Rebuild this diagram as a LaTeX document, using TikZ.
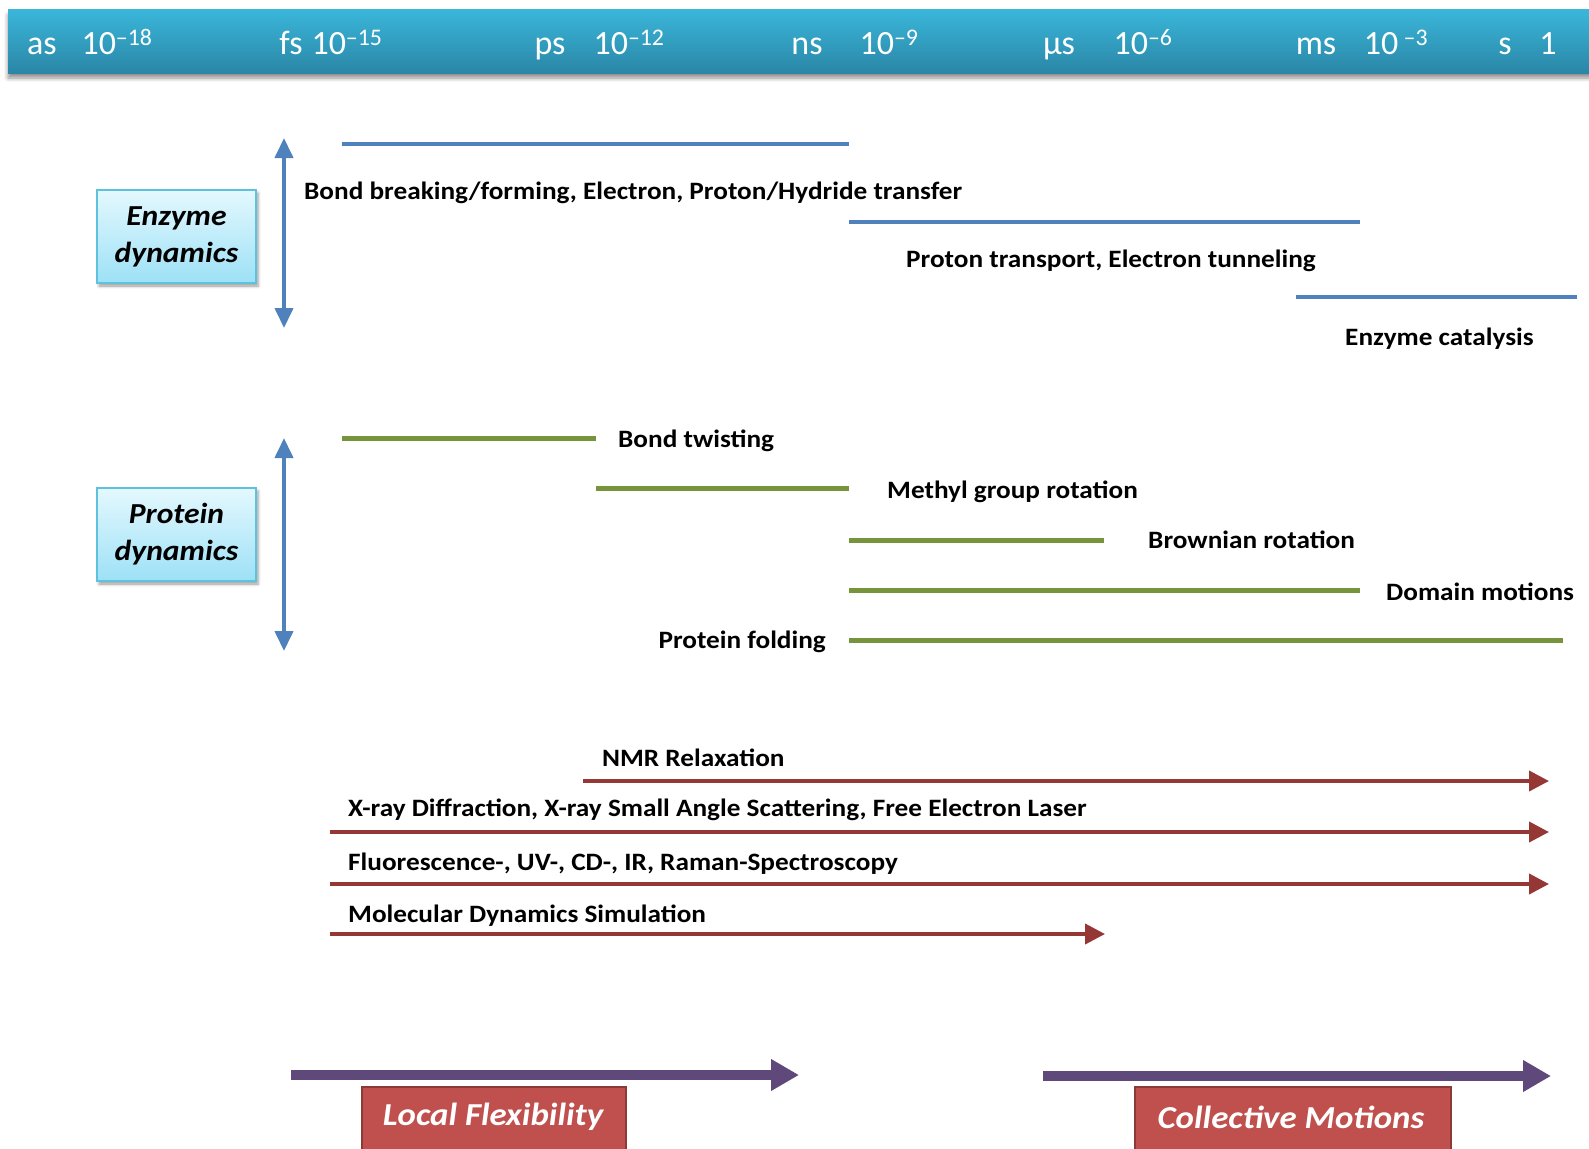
\documentclass[tikz,border=0pt]{standalone}
\usepackage{fontspec}
\setmainfont{Carlito}
\newfontfamily\widefont[FakeStretch=1.09]{Carlito}
\usetikzlibrary{arrows.meta, positioning, shadows, shadows.blur}
\definecolor{hdrTop}{HTML}{3AB6DA}
\definecolor{hdrBot}{HTML}{2A86A6}
\definecolor{boxTop}{HTML}{E4F8FE}
\definecolor{boxBot}{HTML}{9DE1F6}
\definecolor{boxLine}{HTML}{5EC2DF}
\definecolor{mBlue}{HTML}{4F81BD}
\definecolor{mGreen}{HTML}{77933C}
\definecolor{mRed}{HTML}{953735}
\definecolor{mPurple}{HTML}{5F497A}
\definecolor{mBoxRed}{HTML}{C0504D}
\definecolor{mBoxEdge}{HTML}{8C3A37}

\begin{document}
\begin{tikzpicture}[x=1pt, y=-1pt,
    hdr/.style={anchor=base, text=white, inner sep=0pt, font=\fontsize{34}{40}\selectfont},
    lbl/.style={inner sep=0pt, font=\widefont\fontsize{25}{30}\selectfont\bfseries},
    kindbox/.style={draw=boxLine, line width=1.2pt, top color=boxTop, bottom color=boxBot,
      minimum width=159pt, minimum height=93pt, align=center,
      font=\widefont\fontsize{29}{37}\selectfont\bfseries\itshape,
      blur shadow={shadow xshift=2pt, shadow yshift=-3pt, shadow blur radius=3pt, shadow opacity=40}},
    scalebox/.style={draw=mBoxEdge, line width=1.5pt, fill=mBoxRed},
    scaletext/.style={text=white, font=\widefont\fontsize{32}{36}\selectfont\bfseries\itshape},
    bluebar/.style={mBlue, line width=4pt},
    greenbar/.style={mGreen, line width=5pt},
    method/.style={mRed, line width=4pt, -{Triangle[length=20pt, width=20pt]}},
    trend/.style={mPurple, line width=10pt, -{Triangle[length=28pt, width=30pt]}},
    span/.style={mBlue, line width=4pt, {Triangle[length=20pt, width=18pt]}-{Triangle[length=20pt, width=18pt]}}]
  \useasboundingbox (0,0) rectangle (1589,1148);

  % time scale bar
  \shade[top color=hdrTop, bottom color=hdrBot,
    blur shadow={shadow xshift=0pt, shadow yshift=-5pt, shadow blur radius=4pt, shadow opacity=45}]
    (8,10) rectangle (1600,73);
  \foreach \x/\t [count=\i] in {42/as, 117/10\textsuperscript{--18}, 291/fs, 347/10\textsuperscript{--15},
      550/ps, 629/10\textsuperscript{--12}, 807/ns, 889/10\textsuperscript{--9},
      1059/µs, 1143/10\textsuperscript{--6}, 1316/ms, 1396/10\textsuperscript{ --3},
      1505/s, 1548/1}
    \node[hdr] (t\i) at (\x,55) {\t};

  % enzyme dynamics
  \node[kindbox] (enz) at (176.5,236.5) {Enzyme\\dynamics};
  \draw[span] (284,138) -- (284,328);
  \foreach \xa/\xb/\y in {342/849/144, 849/1360/222, 1296/1577/297}
    \draw[bluebar] (\xa,\y) -- (\xb,\y);
  \node[lbl, anchor=west] (bond) at (304,193) {Bond breaking/forming, Electron, Proton/Hydride transfer};
  \node[lbl, anchor=west] (ptrans) at (906,261) {Proton transport, Electron tunneling};
  \node[lbl, anchor=west] (cat) at (1345,339) {Enzyme catalysis};

  % protein dynamics
  \node[kindbox] (prot) at (176.5,534.5) {Protein\\dynamics};
  \draw[span] (284,438) -- (284,651);
  \foreach \xa/\xb/\y in {342/596/438, 596/849/488, 849/1104/540, 849/1360/590, 849/1563/640}
    \draw[greenbar] (\xa,\y) -- (\xb,\y);
  \node[lbl, anchor=west] (twist) at (618,441) {Bond twisting};
  \node[lbl, anchor=west] (methyl) at (887,492) {Methyl group rotation};
  \node[lbl, anchor=west] (brown) at (1148,540) {Brownian rotation};
  \node[lbl, anchor=west] (domain) at (1386,592) {Domain motions};
  \node[lbl, anchor=east] (fold) at (826,642) {Protein folding};

  % experimental methods
  \foreach \xa/\xb/\y in {583/1549/781, 330/1549/832, 330/1549/884, 330/1105/934}
    \draw[method] (\xa,\y) -- (\xb,\y);
  \node[lbl, anchor=west] (nmr) at (602,758) {NMR Relaxation};
  \node[lbl, anchor=west] (xray) at (348,810) {X-ray Diffraction, X-ray Small Angle Scattering, Free Electron Laser};
  \node[lbl, anchor=west] (spec) at (348,864) {Fluorescence-, UV-, CD-, IR, Raman-Spectroscopy};
  \node[lbl, anchor=west] (md) at (348,916) {Molecular Dynamics Simulation};

  % local vs collective
  \draw[trend] (291,1075) -- (799,1075);
  \draw[trend] (1043,1076) -- (1551,1076);
  \draw[scalebox] (362,1087) rectangle (626,1170);
  \draw[scalebox] (1135,1087) rectangle (1451,1170);
  \node[scaletext] (local) at (493,1117) {Local Flexibility};
  \node[scaletext] (coll) at (1291,1117) {Collective Motions};
\end{tikzpicture}
\end{document}
